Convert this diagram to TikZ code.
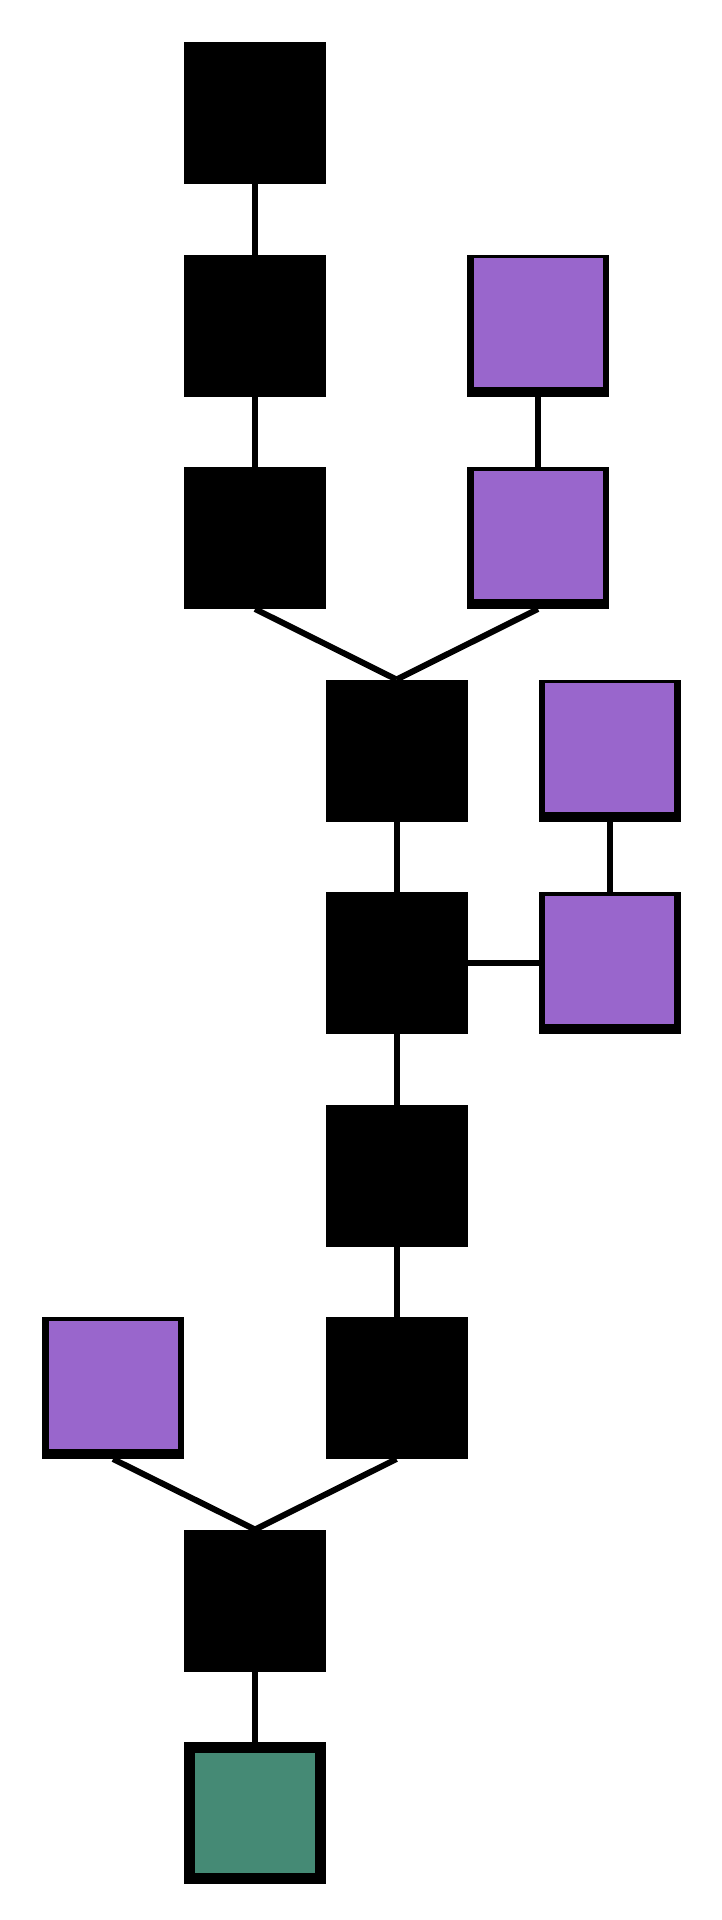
\documentclass[tikz,border=0pt]{standalone}
\usepackage{tikz}
\definecolor{pur}{RGB}{153,102,204}
\definecolor{grn}{RGB}{69,138,117}
\tikzset{
  blk/.style={minimum size=142pt, inner sep=0pt, outer sep=0pt, fill=black, draw=none},
  purbox/.style={minimum size=142pt, inner sep=0pt, outer sep=0pt, fill=black, draw=none,
    path picture={\fill[pur] ([xshift=6.5pt,yshift=10pt]path picture bounding box.south west) rectangle ([xshift=-6.5pt,yshift=-3.5pt]path picture bounding box.north east);}},
  grnbox/.style={minimum size=142pt, inner sep=0pt, outer sep=0pt, fill=black, draw=none,
    path picture={\fill[grn] ([xshift=10.7pt,yshift=10.7pt]path picture bounding box.south west) rectangle ([xshift=-10.7pt,yshift=-10.7pt]path picture bounding box.north east);}},
  link/.style={draw=black, line width=6pt}
}
\begin{document}
\begin{tikzpicture}[x=1pt,y=-1pt]
\fill[white] (0,0) rectangle (722,1920);
\useasboundingbox (0,0) rectangle (722,1920);
% nodes
\node[blk] (a1) at (255,113) {};
\node[blk] (a2) at (255,325.5) {};
\node[blk] (a3) at (255,538) {};
\node[purbox] (c1) at (538,325.5) {};
\node[purbox] (c2) at (538,538) {};
\node[blk] (b1) at (396.5,750.5) {};
\node[purbox] (d1) at (609.5,750.5) {};
\node[blk] (b2) at (396.5,963) {};
\node[purbox] (d2) at (609.5,963) {};
\node[blk] (b3) at (396.5,1175.5) {};
\node[blk] (b4) at (396.5,1388) {};
\node[purbox] (l1) at (113,1388) {};
\node[blk] (a4) at (255,1600.5) {};
\node[grnbox] (g1) at (255,1813) {};
% connectors
\draw[link] (a1.south) -- (a2.north);
\draw[link] (a2.south) -- (a3.north);
\draw[link] (c1.south) -- (c2.north);
\draw[link] (a3.south) -- (b1.north);
\draw[link] (c2.south) -- (b1.north);
\draw[link] (b1.south) -- (b2.north);
\draw[link] (d1.south) -- (d2.north);
\draw[link] (b2.east) -- (d2.west);
\draw[link] (b2.south) -- (b3.north);
\draw[link] (b3.south) -- (b4.north);
\draw[link] (l1.south) -- (a4.north);
\draw[link] (b4.south) -- (a4.north);
\draw[link] (a4.south) -- (g1.north);
\end{tikzpicture}
\end{document}
